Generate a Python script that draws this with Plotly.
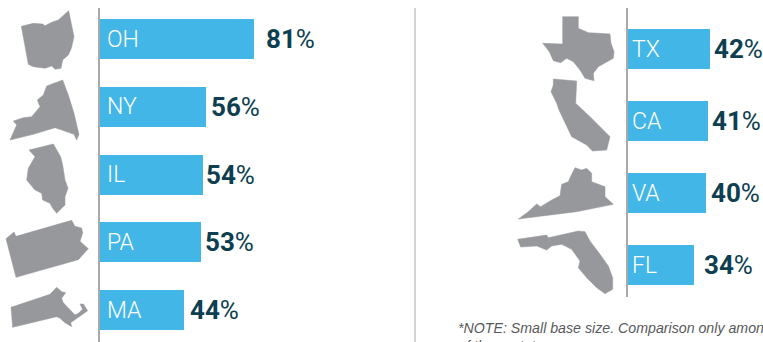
import plotly.graph_objects as go

# Share of respondents by state, one panel per group
left_states = ["OH", "NY", "IL", "PA", "MA"]
left_values = [81, 56, 54, 53, 44]
right_states = ["TX", "CA", "VA", "FL"]
right_values = [42, 41, 40, 34]
note_text = "<i>*NOTE: Small base size. Comparison only among<br>of these states.</i>"

W, H = 763, 342
BAR_BLUE = "#42b6e6"
VALUE_INK = "#0e3f50"
STATE_GREY = "#97989c"
RULE_GREY = "#a9a9ab"
LABEL_FONT = "Roboto"

# Panel geometry in page pixels: axis left edge, plot right edge, top, bottom,
# pixels per percentage point, spacing between bars, and bar thickness.
LEFT = dict(x0=100, x1=405, top=8, bottom=342, scale=1.9, step=67.75, first=39, bar=40)
RIGHT = dict(x0=628, x1=763, top=8, bottom=297, scale=1.95, step=72, first=49, bar=40)

# Extra gap between bar end and value label, per bar
left_gaps = [10, 3, 1, 2, 4]
right_gaps = [2, 2, 3, 8]

# State silhouettes: origin in page pixels, vertices in thirds of a pixel
OUTLINES = {
    "OH": (0, 5, [(64,64),(100,55),(128,57),(135,62),(155,52),(175,45),(206,17),(218,70),(222,95),
                  (214,130),(205,150),(188,165),(183,190),(165,193),(155,183),(135,190),(120,187),
                  (100,185),(85,178)]),
    "NY": (0, 75, [(30,195),(45,160),(50,150),(40,138),(70,128),(95,125),(120,95),(112,75),(130,60),
                   (140,33),(188,15),(205,60),(222,115),(235,170),(237,178),(230,195),(222,178),
                   (165,158),(100,178)]),
    "IL": (0, 140, [(87,30),(160,12),(182,50),(188,75),(195,120),(204,145),(195,170),(195,195),
                    (185,205),(170,220),(158,205),(150,190),(128,180),(125,160),(105,150),(80,120),
                    (85,85),(95,65),(105,50)]),
    "PA": (0, 218, [(18,62),(42,42),(48,55),(215,7),(225,25),(245,30),(248,45),(240,70),(265,92),
                    (245,112),(235,125),(48,178)]),
    "MA": (0, 280, [(33,82),(150,43),(170,22),(185,35),(197,38),(185,55),(190,68),(210,90),(225,105),
                    (235,100),(248,88),(240,72),(250,72),(263,92),(245,105),(225,118),(212,128),
                    (215,140),(195,128),(180,115),(170,110),(38,142)]),
    "TX": (530, 10, [(98,20),(145,20),(145,55),(175,68),(210,70),(240,72),(243,100),(252,125),
                     (250,145),(230,155),(205,170),(190,190),(192,212),(165,205),(150,180),(130,155),
                     (110,145),(92,158),(70,152),(58,125),(38,100),(98,102)]),
    "CA": (535, 75, [(55,12),(125,18),(122,85),(165,125),(225,185),(220,205),(215,225),(172,228),
                     (155,210),(110,185),(100,165),(85,135),(72,105),(65,85),(48,50),(55,30)]),
    "VA": (510, 155, [(25,192),(55,170),(80,147),(92,155),(125,135),(150,122),(155,88),(175,80),
                      (180,68),(195,38),(215,45),(230,40),(245,55),(245,80),(285,95),(285,125),
                      (310,148),(200,170)]),
    "FL": (430, 171, [(263,205),(350,192),(355,200),(445,180),(465,182),(480,210),(510,250),(535,285),
                      (548,320),(548,355),(525,368),(500,350),(470,320),(445,290),(450,270),(425,235),
                      (395,220),(365,225),(350,237),(320,225),(272,228)]),
}

fig = go.Figure()


def add_panel(states, values, gaps, geo, xname, yname, inset):
    """Draw one panel of horizontal bars on its own pair of axes."""
    xa, ya = xname.replace("axis", ""), yname.replace("axis", "")
    fig.add_trace(go.Bar(
        y=list(range(len(states))), x=values, orientation="h",
        width=geo["bar"] / geo["step"], marker=dict(color=BAR_BLUE, line_width=0),
        xaxis=xa, yaxis=ya, hoverinfo="skip", showlegend=False,
    ))
    fig.update_layout({
        xname: dict(domain=[geo["x0"] / W, geo["x1"] / W], anchor=ya, visible=False,
                    range=[0, (geo["x1"] - geo["x0"]) / geo["scale"]]),
        yname: dict(domain=[1 - geo["bottom"] / H, 1 - geo["top"] / H], anchor=xa,
                    range=[(geo["bottom"] - geo["first"]) / geo["step"],
                           (geo["top"] - geo["first"]) / geo["step"]],
                    showline=True, linecolor=RULE_GREY, linewidth=2,
                    showgrid=False, zeroline=False, showticklabels=False, ticks=""),
    })
    for i, (state, value, gap) in enumerate(zip(states, values, gaps)):
        fig.add_annotation(
            x=0, y=i, xref=xa, yref=ya, xanchor="left", yanchor="middle", xshift=inset,
            text=state, showarrow=False,
            font=dict(family=LABEL_FONT, size=23, weight=300, color="#ffffff"),
        )
        fig.add_annotation(
            x=value, y=i, xref=xa, yref=ya, xanchor="left", yanchor="middle", xshift=gap,
            text=f"<b>{value}</b>%", showarrow=False,
            font=dict(family=LABEL_FONT, size=26, color=VALUE_INK),
        )


add_panel(left_states, left_values, left_gaps, LEFT, "xaxis", "yaxis", 5)
add_panel(right_states, right_values, right_gaps, RIGHT, "xaxis2", "yaxis2", 2)

# Full-page axes in pixel units carry the state silhouettes
fig.update_layout(
    xaxis3=dict(domain=[0, 1], range=[0, W], visible=False, anchor="y3"),
    yaxis3=dict(domain=[0, 1], range=[H, 0], visible=False, anchor="x3"),
)
for state, (ox, oy, pts) in OUTLINES.items():
    xs = [ox + p[0] / 3 for p in pts] + [ox + pts[0][0] / 3]
    ys = [oy + p[1] / 3 for p in pts] + [oy + pts[0][1] / 3]
    fig.add_trace(go.Scatter(
        x=xs, y=ys, mode="lines", fill="toself", fillcolor=STATE_GREY,
        line=dict(color=STATE_GREY, width=0.5), xaxis="x3", yaxis="y3",
        hoverinfo="skip", showlegend=False, name=state,
    ))

# Divider between the two panels
fig.add_shape(type="line", xref="paper", yref="paper",
              x0=415 / W, x1=415 / W, y0=0, y1=1 - 8 / H,
              line=dict(color=RULE_GREY, width=1))

fig.add_annotation(
    x=456 / W, y=1 - 318 / H, xref="paper", yref="paper", xanchor="left", yanchor="top",
    align="left", text=note_text, showarrow=False,
    font=dict(family="Liberation Sans", size=14.2, color="#58595b"),
)

fig.update_layout(
    width=W, height=H, margin=dict(l=0, r=0, t=0, b=0),
    paper_bgcolor="#ffffff", plot_bgcolor="rgba(0,0,0,0)",
    bargap=0, hovermode=False,
)

fig.write_html("out.html", config={"displayModeBar": False})
